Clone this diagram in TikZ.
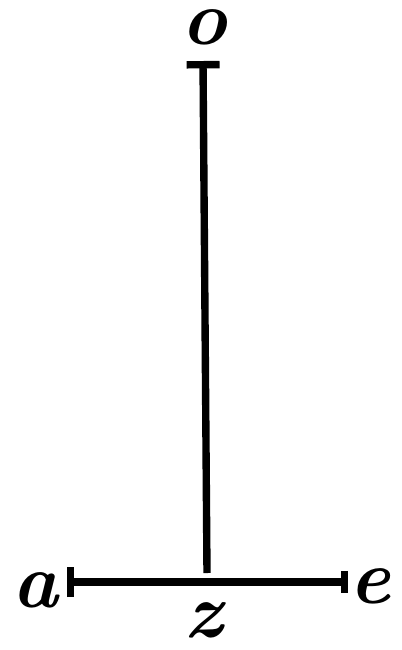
\documentclass[tikz,border=0pt]{standalone}
\usetikzlibrary{arrows.meta, positioning}

\tikzset{
  letter/.style={inner sep=2pt, font=\fontsize{44}{44}\selectfont\bfseries\itshape},
  segment/.style={line width=4.2pt, line cap=butt}
}

\begin{document}
\begin{tikzpicture}[x=0.02cm, y=-0.02cm]
\useasboundingbox (0,0) rectangle (402,650);

% Points of the figure
\coordinate (ptO) at (203,61);
\coordinate (ptZ) at (207,573);
\coordinate (ptA) at (67,582);
\coordinate (ptE) at (348,582);

% Letters
\node[letter] (labO) at (204,27) {o};
\node[letter] (labA) at (35,590) {a};
\node[letter] (labE) at (370,586) {e};
\node[letter] (labZ) at (203,620) {z};

% Lines
\draw[segment, {Bar[width=0.66cm]}-] (ptO) -- (ptZ);
\draw[segment, {Bar[width=0.6cm]}-{Bar[width=0.45cm]}] (ptA) -- (ptE);

\end{tikzpicture}
\end{document}
